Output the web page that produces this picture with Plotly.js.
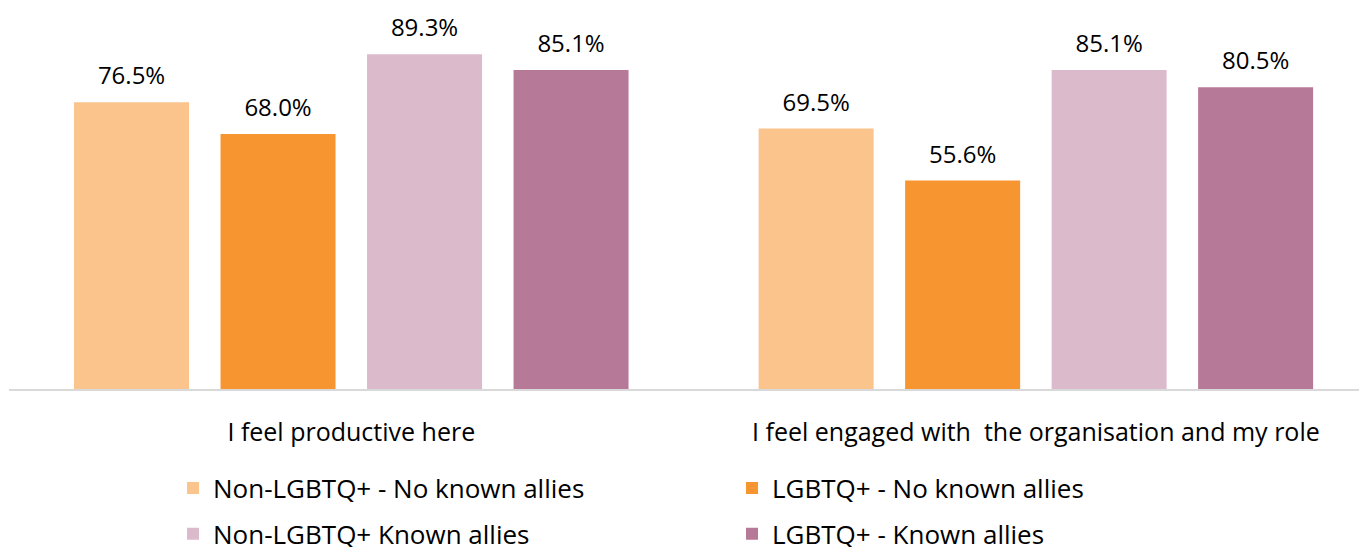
<!DOCTYPE html>
<html>
<head>
<meta charset="utf-8">
<script src="https://cdn.plot.ly/plotly-3.0.1.min.js"></script>
<style>
  html, body { margin: 0; padding: 0; background: #fff; }
  #chart { width: 1366px; height: 547px; }
</style>
</head>
<body>
<div id="chart"></div>
<script>
'use strict'
/* Share of staff agreeing, by group and ally visibility */
var categories = ['I feel productive here', 'I feel engaged with  the organisation and my role'];
var seriesNames = ['Non-LGBTQ+ - No known allies', 'LGBTQ+ - No known allies', 'Non-LGBTQ+ Known allies', 'LGBTQ+ - Known allies'];
var nonNoAllies = [76.5, 69.5];
var lgbtNoAllies = [68.0, 55.6];
var nonKnownAllies = [89.3, 85.1];
var lgbtKnownAllies = [85.1, 80.5];

var colors = ['#FAC48C', '#F79530', '#DBBACB', '#B77998'];
var font = '"Open Sans", "Noto Sans", sans-serif';

function makeTrace(idx, values, legendId) {
    return {
        type: 'bar',
        name: seriesNames[idx],
        x: [0, 1],
        y: values,
        marker: {color: colors[idx]},
        // small invisible second line lifts the label off the bar a bit
        text: values.map(function (v) {
            return '<span style="font-size:24px">' + v.toFixed(1) + '%</span><br><span style="color:rgba(0,0,0,0)">.</span>';
        }),
        textposition: 'outside',
        cliponaxis: false,
        textfont: {family: font, size: 9, color: '#000'},
        legend: legendId,
        hoverinfo: 'none'
    };
}

var data = [
    makeTrace(0, nonNoAllies, 'legend'),
    makeTrace(1, lgbtNoAllies, 'legend'),
    makeTrace(2, nonKnownAllies, 'legend2'),
    makeTrace(3, lgbtKnownAllies, 'legend2')
];

var legendBase = {
    orientation: 'h',
    x: 0.1215,
    xanchor: 'left',
    yanchor: 'middle',
    entrywidth: 514,
    entrywidthmode: 'pixels',
    font: {family: font, size: 26, color: '#000'},
    bgcolor: 'rgba(0,0,0,0)',
    itemclick: false
};

var layout = {
    width: 1366,
    height: 547,
    margin: {l: 9, r: 7, t: 14, b: 158, autoexpand: false},
    paper_bgcolor: '#fff',
    plot_bgcolor: '#fff',
    barmode: 'group',
    bargap: 0.144,
    bargroupgap: 0.215,
    showlegend: true,
    font: {family: font, size: 25, color: '#000'},
    xaxis: {
        range: [-0.5, 1.472],
        tickmode: 'array',
        tickvals: [0, 1],
        ticktext: categories,
        showgrid: false,
        zeroline: false,
        showline: true,
        linecolor: '#d9d9d9',
        linewidth: 2,
        ticks: '',
        ticklabelstandoff: 20,
        tickfont: {family: font, size: 25, color: '#000'},
        fixedrange: true
    },
    yaxis: {
        range: [0, 100],
        visible: false,
        fixedrange: true
    },
    legend: Object.assign({}, legendBase, {y: -0.264}),
    legend2: Object.assign({}, legendBase, {y: -0.386})
};

Plotly.newPlot('chart', data, layout, {displayModeBar: false, staticPlot: true});
</script>
</body>
</html>
